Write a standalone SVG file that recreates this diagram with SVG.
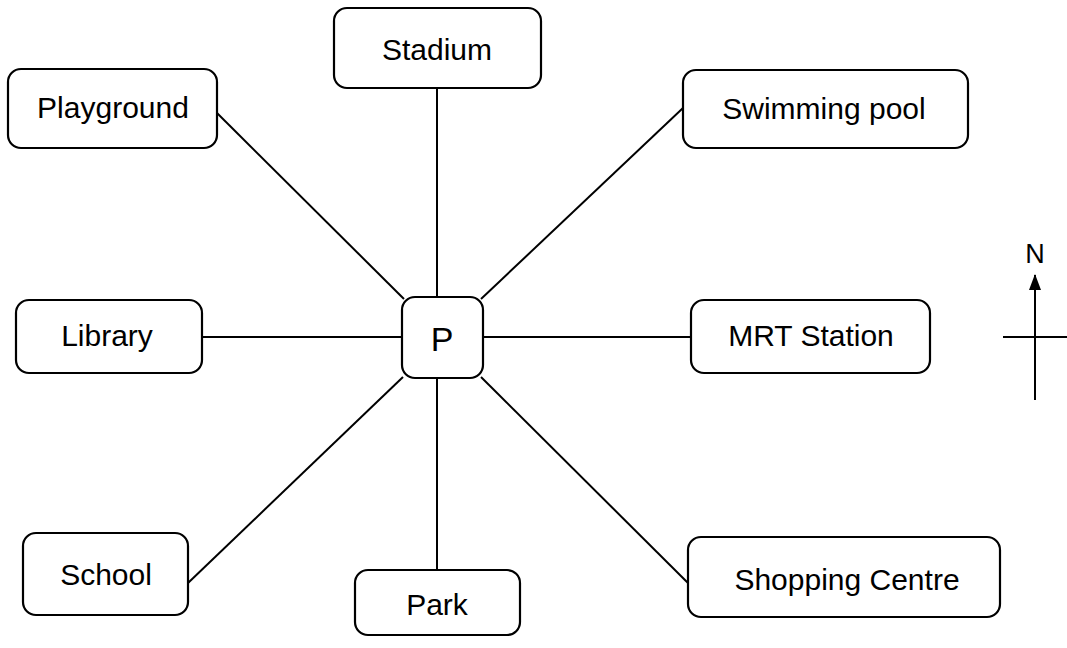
<svg xmlns="http://www.w3.org/2000/svg" width="1067" height="648" viewBox="0 0 1067 648">
<defs>
<style>
.box{fill:#fff;stroke:#000;stroke-width:2.2}
.lbl{font-family:"Liberation Sans",Arial,sans-serif;font-size:30px;fill:#000;text-anchor:middle}
.ln{stroke:#000;stroke-width:2;fill:none}
</style>
<marker id="ah" markerWidth="16" markerHeight="14" refX="15" refY="7" orient="auto" markerUnits="userSpaceOnUse" viewBox="0 0 16 14">
<path d="M0 1 L16 7 L0 13 Z" fill="#000"/>
</marker>
</defs>
<rect width="1067" height="648" fill="#fff"/>
<g id="connectors">
<line class="ln" x1="437" y1="88" x2="437" y2="297"/>
<line class="ln" x1="216" y1="112" x2="404" y2="299"/>
<line class="ln" x1="683" y1="108" x2="481" y2="299"/>
<line class="ln" x1="202" y1="337" x2="402" y2="337"/>
<line class="ln" x1="483" y1="337" x2="691" y2="337"/>
<line class="ln" x1="188" y1="583" x2="403" y2="377"/>
<line class="ln" x1="437" y1="379" x2="437" y2="570"/>
<line class="ln" x1="688" y1="583" x2="481" y2="377"/>
</g>
<g id="node-stadium"><rect class="box" x="334" y="8" width="207" height="80" rx="13"/><text class="lbl" x="437" y="60">Stadium</text></g>
<g id="node-playground"><rect class="box" x="8" y="69" width="209" height="79" rx="13"/><text class="lbl" x="113" y="118">Playground</text></g>
<g id="node-swimming"><rect class="box" x="683" y="70" width="285" height="78" rx="13"/><text class="lbl" x="824" y="119">Swimming pool</text></g>
<g id="node-p"><rect class="box" x="402" y="297" width="81" height="81" rx="13"/><text class="lbl" x="442" y="351" style="font-size:34px">P</text></g>
<g id="node-library"><rect class="box" x="16" y="300" width="186" height="73" rx="13"/><text class="lbl" x="107" y="346">Library</text></g>
<g id="node-mrt"><rect class="box" x="691" y="300" width="239" height="73" rx="13"/><text class="lbl" x="811" y="346">MRT Station</text></g>
<g id="node-school"><rect class="box" x="23" y="533" width="165" height="82" rx="13"/><text class="lbl" x="106" y="585">School</text></g>
<g id="node-park"><rect class="box" x="355" y="570" width="165" height="65" rx="13"/><text class="lbl" x="437" y="615">Park</text></g>
<g id="node-shopping"><rect class="box" x="688" y="537" width="312" height="80" rx="13"/><text class="lbl" x="847" y="590">Shopping Centre</text></g>
<g id="compass">
<text class="lbl" x="1035" y="263" style="font-size:27px">N</text>
<line class="ln" x1="1035" y1="400" x2="1035" y2="275" marker-end="url(#ah)"/>
<line class="ln" x1="1003" y1="337" x2="1067" y2="337"/>
</g>
</svg>
